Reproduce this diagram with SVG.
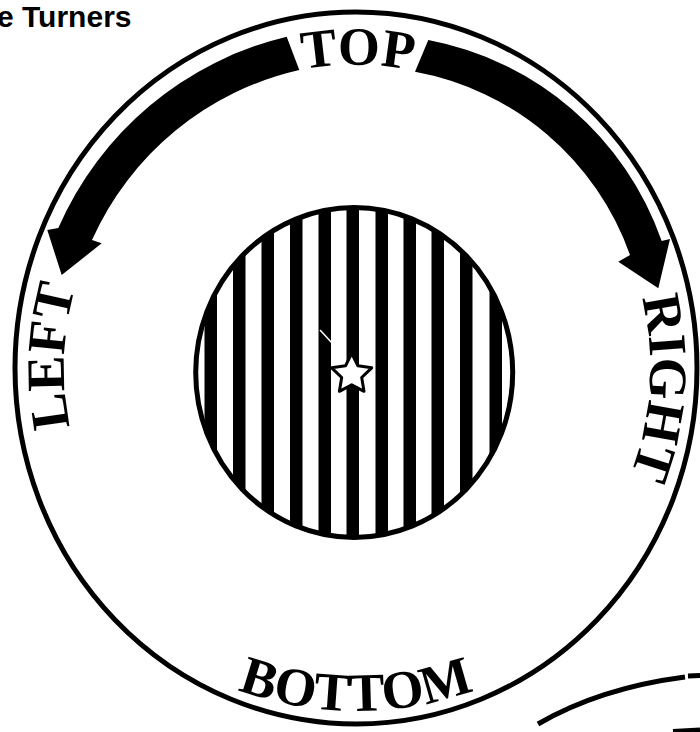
<svg xmlns="http://www.w3.org/2000/svg" width="700" height="732" viewBox="0 0 700 732">
  <style>
    .ring { fill: none; stroke: #000; stroke-width: 5; }
    .label { font-family: "Liberation Serif", "Times New Roman", serif; font-weight: bold; font-size: 54px; fill: #000; }
    .title { font-family: "Liberation Sans", Arial, sans-serif; font-weight: bold; font-size: 30px; fill: #000; }
    .stripe { fill: #000; }
    .arrow { fill: #000; stroke: none; }
  </style>
  <defs>
    <clipPath id="discClip">
      <ellipse cx="354.2" cy="372.5" rx="158.5" ry="165"/>
    </clipPath>
    <path id="pTop" d="M 94.2 214.7 A 303 303 0 0 1 619.4 218.3"/>
    <path id="pLeft" d="M 200.4 615.1 A 292 292 0 0 1 219.8 109.7"/>
    <path id="pRight" d="M 519.2 123.3 A 294 294 0 0 1 486.3 631.6"/>
    <path id="pBottom" d="M 59 539.5 A 343 343 0 0 0 653 539.5"/>
  </defs>
  <rect width="700" height="732" fill="#fff"/>

  <g id="title">
    <text class="title" x="-3" y="27">e Turners</text>
  </g>

  <g id="outer-ring">
    <ellipse class="ring" cx="356" cy="368" rx="341" ry="356"/>
  </g>

  <g id="next-ring">
    <path class="ring" d="M 538 724 Q 600 688 685 677"/>
    <path class="ring" d="M 688 676 L 700 675.6"/>
    <path class="ring" d="M 673 731.5 L 700 730"/>
  </g>

  <g id="disc">
    <g clip-path="url(#discClip)">
      <rect x="150" y="190" width="400" height="370" fill="#fff"/>
      <rect class="stripe" x="204.5" y="190" width="12.5" height="370"/>
      <rect class="stripe" x="233" y="190" width="12.5" height="370"/>
      <rect class="stripe" x="261.5" y="190" width="12.5" height="370"/>
      <rect class="stripe" x="290" y="190" width="12.5" height="370"/>
      <rect class="stripe" x="318.5" y="190" width="12.5" height="370"/>
      <rect class="stripe" x="346.5" y="190" width="12.5" height="370"/>
      <rect class="stripe" x="375.5" y="190" width="12.5" height="370"/>
      <rect class="stripe" x="403.5" y="190" width="12.5" height="370"/>
      <rect class="stripe" x="431.5" y="190" width="12.5" height="370"/>
      <rect class="stripe" x="460" y="190" width="12.5" height="370"/>
      <rect class="stripe" x="489.5" y="190" width="12.5" height="370"/>
      <line x1="320" y1="330" x2="332" y2="343" stroke="#fff" stroke-width="1.5"/>
    </g>
    <ellipse class="ring" cx="354.2" cy="372.5" rx="158.5" ry="165"/>
  </g>

  <g id="star">
    <polygon points="351.7,353.3 357.9,365.8 371.7,367.8 361.7,377.5 364.0,391.3 351.7,384.8 339.4,391.3 341.7,377.5 331.7,367.8 345.5,365.8" fill="#fff" stroke="#000" stroke-width="3" stroke-linejoin="round"/>
  </g>

  <g id="connectors">
    <path class="arrow" d="M 286.7 36.7 A 334 334 0 0 0 58.3 228 L 47.3 230 L 61.7 275 L 101.7 243.3 L 92 240 A 300 300 0 0 1 299.3 70 Z"/>
    <path class="arrow" d="M 428.3 40 A 308 308 0 0 1 661.7 241 L 670 239 L 658.3 288.3 L 618.3 261.7 L 630 255 A 282 282 0 0 0 415 71.7 Z"/>
  </g>

  <g id="label-top">
    <text class="label"><textPath href="#pTop" startOffset="50%" text-anchor="middle">TOP</textPath></text>
  </g>
  <g id="label-left">
    <text class="label"><textPath href="#pLeft" startOffset="50%" text-anchor="middle">LEFT</textPath></text>
  </g>
  <g id="label-right">
    <text class="label"><textPath href="#pRight" startOffset="50%" text-anchor="middle">RIGHT</textPath></text>
  </g>
  <g id="label-bottom">
    <text class="label"><textPath href="#pBottom" startOffset="50%" text-anchor="middle">BOTTOM</textPath></text>
  </g>
</svg>
